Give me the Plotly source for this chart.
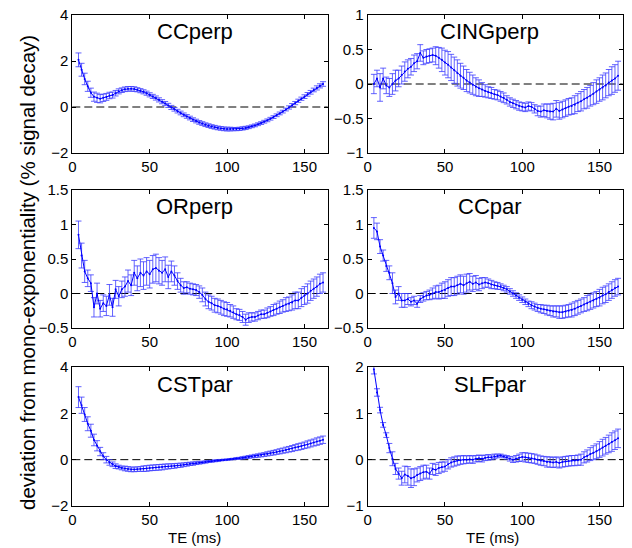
import plotly.graph_objects as go

TE = [4, 6, 8, 10, 12, 14, 16, 18, 20, 22,
      24, 26, 28, 30, 32, 34, 36, 38, 40, 42,
      44, 46, 48, 50, 52, 54, 56, 58, 60, 62,
      64, 66, 68, 70, 72, 74, 76, 78, 80, 82,
      84, 86, 88, 90, 92, 94, 96, 98, 100, 102,
      104, 106, 108, 110, 112, 114, 116, 118, 120, 122,
      124, 126, 128, 130, 132, 134, 136, 138, 140, 142,
      144, 146, 148, 150, 152, 154, 156, 158, 160, 162]

titles = ["CCperp", "CINGperp", "ORperp", "CCpar", "CSTpar", "SLFpar"]

ccperp = [2.05, 1.62, 1.22, 0.9, 0.62, 0.45, 0.4, 0.36, 0.4, 0.44,
          0.5, 0.52, 0.6, 0.68, 0.73, 0.77, 0.79, 0.79, 0.78, 0.75,
          0.71, 0.66, 0.6, 0.53, 0.46, 0.39, 0.31, 0.23, 0.15, 0.07,
          -0.02, -0.1, -0.18, -0.26, -0.34, -0.41, -0.48, -0.55, -0.61, -0.67,
          -0.72, -0.77, -0.81, -0.85, -0.88, -0.91, -0.93, -0.95, -0.96, -0.96,
          -0.96, -0.96, -0.95, -0.93, -0.91, -0.88, -0.84, -0.8, -0.75, -0.7,
          -0.64, -0.58, -0.51, -0.44, -0.36, -0.28, -0.2, -0.11, -0.02, 0.08,
          0.17, 0.27, 0.36, 0.45, 0.55, 0.64, 0.74, 0.83, 0.92, 1.0]
ccperp_err = [0.3, 0.28, 0.25, 0.22, 0.2, 0.2, 0.2, 0.18, 0.16, 0.15,
              0.14, 0.13, 0.12, 0.11, 0.1, 0.1, 0.1, 0.1, 0.1, 0.09,
              0.09, 0.09, 0.09, 0.09, 0.09, 0.09, 0.09, 0.09, 0.09, 0.09,
              0.09, 0.08, 0.08, 0.08, 0.08, 0.08, 0.08, 0.08, 0.08, 0.08,
              0.08, 0.08, 0.08, 0.08, 0.08, 0.08, 0.08, 0.08, 0.08, 0.08,
              0.07, 0.07, 0.07, 0.07, 0.07, 0.06, 0.06, 0.06, 0.06, 0.06,
              0.06, 0.06, 0.06, 0.06, 0.06, 0.06, 0.06, 0.06, 0.07, 0.07,
              0.07, 0.07, 0.07, 0.08, 0.08, 0.08, 0.08, 0.09, 0.09, 0.1]

cingperp = [0.0, 0.08, -0.05, 0.08, -0.02, -0.05, 0.0, 0.05, 0.08, 0.13,
            0.18, 0.22, 0.25, 0.3, 0.33, 0.45, 0.38, 0.4, 0.41, 0.42,
            0.41, 0.38, 0.35, 0.31, 0.28, 0.24, 0.2, 0.16, 0.12, 0.09,
            0.05, 0.02, -0.01, -0.04, -0.06, -0.08, -0.1, -0.12, -0.13, -0.15,
            -0.16, -0.18, -0.2, -0.23, -0.26, -0.28, -0.3, -0.32, -0.33, -0.34,
            -0.32, -0.33, -0.36, -0.39, -0.4, -0.38, -0.39, -0.4, -0.4, -0.36,
            -0.39, -0.37, -0.35, -0.33, -0.32, -0.3, -0.27, -0.25, -0.22, -0.2,
            -0.17, -0.14, -0.11, -0.08, -0.05, -0.02, 0.02, 0.05, 0.08, 0.12]
cingperp_err = [0.14, 0.12, 0.2, 0.15, 0.12, 0.13, 0.15, 0.15, 0.12, 0.13,
                0.14, 0.13, 0.12, 0.12, 0.11, 0.12, 0.1, 0.1, 0.1, 0.1,
                0.13, 0.15, 0.17, 0.18, 0.19, 0.19, 0.19, 0.19, 0.18, 0.17,
                0.16, 0.15, 0.14, 0.13, 0.12, 0.1, 0.09, 0.08, 0.08, 0.07,
                0.07, 0.07, 0.07, 0.06, 0.06, 0.06, 0.06, 0.06, 0.06, 0.06,
                0.06, 0.06, 0.06, 0.07, 0.08, 0.09, 0.1, 0.11, 0.12, 0.12,
                0.12, 0.12, 0.12, 0.12, 0.12, 0.13, 0.13, 0.14, 0.14, 0.15,
                0.15, 0.16, 0.17, 0.17, 0.18, 0.18, 0.19, 0.2, 0.2, 0.21]

orperp = [0.85, 0.55, 0.32, 0.22, 0.15, -0.2, 0.0, -0.22, -0.14, -0.18,
          -0.02, -0.2, 0.06, -0.04, 0.06, 0.1, 0.18, 0.12, 0.3, 0.22,
          0.3, 0.26, 0.32, 0.28, 0.35, 0.37, 0.33, 0.3, 0.35, 0.24,
          0.32, 0.26, 0.18, 0.12, 0.08, 0.09, 0.07, 0.06, 0.05, 0.02,
          -0.02, -0.08, -0.12, -0.14, -0.17, -0.18, -0.2, -0.22, -0.23, -0.25,
          -0.27, -0.3, -0.31, -0.34, -0.38, -0.35, -0.34, -0.34, -0.32, -0.3,
          -0.3, -0.28, -0.26, -0.24, -0.22, -0.2, -0.18, -0.16, -0.15, -0.13,
          -0.1, -0.1, -0.06, -0.03, 0.0, 0.04, 0.07, 0.1, 0.14, 0.16]
orperp_err = [0.2, 0.18, 0.16, 0.12, 0.12, 0.14, 0.15, 0.12, 0.12, 0.14,
              0.15, 0.13, 0.13, 0.14, 0.12, 0.14, 0.16, 0.15, 0.18, 0.18,
              0.2, 0.2, 0.2, 0.2, 0.2, 0.2, 0.19, 0.18, 0.18, 0.17,
              0.15, 0.14, 0.12, 0.1, 0.09, 0.08, 0.08, 0.08, 0.08, 0.09,
              0.1, 0.1, 0.1, 0.1, 0.1, 0.1, 0.1, 0.1, 0.1, 0.09,
              0.09, 0.08, 0.08, 0.08, 0.08, 0.07, 0.06, 0.06, 0.06, 0.06,
              0.06, 0.07, 0.07, 0.08, 0.08, 0.09, 0.09, 0.1, 0.1, 0.11,
              0.12, 0.12, 0.13, 0.13, 0.14, 0.14, 0.14, 0.14, 0.14, 0.14]

ccpar = [0.95, 0.9, 0.68, 0.55, 0.4, 0.3, 0.15, -0.05, 0.0, -0.1,
         -0.1, -0.08, -0.12, -0.1, -0.15, -0.08, -0.05, -0.03, -0.02, 0.0,
         0.02, 0.02, 0.04, 0.05, 0.08, 0.1, 0.1, 0.12, 0.14, 0.12,
         0.15, 0.17, 0.14, 0.16, 0.13, 0.15, 0.16, 0.15, 0.13, 0.12,
         0.11, 0.1, 0.08, 0.06, 0.03, 0.0, -0.03, -0.06, -0.09, -0.12,
         -0.15, -0.17, -0.19, -0.21, -0.22, -0.23, -0.24, -0.25, -0.26, -0.26,
         -0.27, -0.27, -0.26, -0.25, -0.24, -0.22, -0.2, -0.18, -0.16, -0.14,
         -0.12, -0.1, -0.08, -0.06, -0.03, -0.01, 0.02, 0.05, 0.08, 0.1]
ccpar_err = [0.15, 0.12, 0.1, 0.08, 0.08, 0.1, 0.15, 0.1, 0.1, 0.1,
             0.1, 0.08, 0.06, 0.06, 0.05, 0.05, 0.06, 0.06, 0.07, 0.08,
             0.09, 0.1, 0.11, 0.12, 0.12, 0.13, 0.13, 0.13, 0.13, 0.13,
             0.13, 0.12, 0.11, 0.1, 0.09, 0.08, 0.07, 0.06, 0.06, 0.05,
             0.05, 0.04, 0.04, 0.04, 0.04, 0.04, 0.04, 0.04, 0.04, 0.04,
             0.04, 0.05, 0.05, 0.05, 0.06, 0.06, 0.07, 0.07, 0.08, 0.08,
             0.09, 0.09, 0.09, 0.09, 0.1, 0.1, 0.1, 0.1, 0.1, 0.11,
             0.11, 0.11, 0.11, 0.12, 0.12, 0.12, 0.12, 0.12, 0.12, 0.12]

cstpar = [2.7, 2.35, 1.95, 1.55, 1.25, 0.85, 0.6, 0.35, 0.15, 0.0,
          -0.12, -0.2, -0.28, -0.32, -0.36, -0.38, -0.4, -0.42, -0.42, -0.41,
          -0.4, -0.39, -0.38, -0.36, -0.35, -0.34, -0.33, -0.32, -0.3, -0.29,
          -0.28, -0.27, -0.25, -0.24, -0.22, -0.2, -0.18, -0.17, -0.15, -0.13,
          -0.12, -0.1, -0.08, -0.07, -0.05, -0.04, -0.02, -0.01, 0.0, 0.02,
          0.03, 0.05, 0.06, 0.08, 0.1, 0.12, 0.14, 0.16, 0.18, 0.2,
          0.22, 0.25, 0.28, 0.3, 0.33, 0.36, 0.39, 0.42, 0.45, 0.48,
          0.52, 0.55, 0.58, 0.62, 0.66, 0.7, 0.74, 0.78, 0.82, 0.86]
cstpar_err = [0.45, 0.35, 0.3, 0.3, 0.28, 0.25, 0.22, 0.18, 0.15, 0.14,
              0.12, 0.1, 0.1, 0.08, 0.08, 0.1, 0.1, 0.1, 0.1, 0.1,
              0.1, 0.12, 0.12, 0.12, 0.12, 0.12, 0.12, 0.12, 0.11, 0.11,
              0.1, 0.1, 0.09, 0.09, 0.08, 0.08, 0.07, 0.07, 0.06, 0.06,
              0.05, 0.05, 0.04, 0.04, 0.04, 0.04, 0.03, 0.03, 0.03, 0.03,
              0.03, 0.04, 0.04, 0.05, 0.05, 0.06, 0.06, 0.07, 0.07, 0.08,
              0.08, 0.09, 0.09, 0.1, 0.1, 0.11, 0.11, 0.12, 0.12, 0.13,
              0.13, 0.14, 0.14, 0.14, 0.15, 0.15, 0.15, 0.16, 0.16, 0.16]

slfpar = [1.95, 1.45, 1.07, 0.75, 0.53, 0.25, 0.02, -0.2, -0.3, -0.4,
          -0.32, -0.35, -0.4, -0.38, -0.33, -0.3, -0.27, -0.26, -0.3, -0.2,
          -0.22, -0.18, -0.16, -0.15, -0.1, -0.06, -0.04, -0.02, -0.01, 0.0,
          0.0, 0.01, 0.0, 0.02, 0.03, 0.02, 0.04, 0.05, 0.05, 0.07,
          0.08, 0.09, 0.07, 0.05, 0.02, 0.0, 0.02, 0.04, 0.06, 0.05,
          0.04, 0.03, 0.02, 0.0, -0.02, -0.03, -0.05, -0.05, -0.06, -0.05,
          -0.07, -0.05, -0.04, -0.03, -0.02, -0.02, -0.01, 0.0, 0.05, 0.08,
          0.12, 0.15, 0.18, 0.22, 0.26, 0.3, 0.34, 0.38, 0.42, 0.46]
slfpar_err = [0.1, 0.08, 0.06, 0.05, 0.05, 0.1, 0.15, 0.12, 0.12, 0.15,
              0.18, 0.2, 0.2, 0.18, 0.15, 0.15, 0.15, 0.14, 0.12, 0.12,
              0.12, 0.12, 0.11, 0.1, 0.1, 0.1, 0.1, 0.1, 0.09, 0.09,
              0.08, 0.08, 0.08, 0.07, 0.07, 0.07, 0.06, 0.06, 0.05, 0.05,
              0.04, 0.03, 0.03, 0.04, 0.05, 0.06, 0.07, 0.08, 0.09, 0.1,
              0.1, 0.1, 0.1, 0.1, 0.1, 0.1, 0.11, 0.11, 0.11, 0.11,
              0.11, 0.11, 0.11, 0.11, 0.11, 0.11, 0.11, 0.12, 0.12, 0.13,
              0.14, 0.15, 0.16, 0.17, 0.18, 0.18, 0.19, 0.2, 0.2, 0.2]

x_ticks = [0, 50, 100, 150]
y_ranges = [[-2, 4], [-1, 1], [-0.5, 1.5], [-0.5, 1.5], [-2, 4], [-1, 2]]
y_dticks = [2, 0.5, 0.5, 0.5, 2, 1]
x_label = "TE (ms)"
y_label = "deviation from mono-exponentiality (% signal decay)"

series = [(ccperp, ccperp_err), (cingperp, cingperp_err), (orperp, orperp_err),
          (ccpar, ccpar_err), (cstpar, cstpar_err), (slfpar, slfpar_err)]

W, H = 632, 548
col_px = [(72.3, 327.7), (367.7, 622.7)]
row_px = [(15, 153), (190, 328), (367, 506)]

FONT = "Liberation Sans, Arial, Helvetica, sans-serif"
fig = go.Figure()
layout = dict(template="none", width=W, height=H,
              margin=dict(l=0, r=0, t=0, b=0, pad=0, autoexpand=False),
              paper_bgcolor="white", plot_bgcolor="white", showlegend=False,
              font=dict(family=FONT, color="black"))
annotations = []
shapes = []

for i, (vals, errs) in enumerate(series):
    r, c = divmod(i, 2)
    n = "" if i == 0 else str(i + 1)
    xa, ya = "x" + n, "y" + n
    fig.add_trace(go.Scatter(
        x=TE, y=vals, xaxis=xa, yaxis=ya, mode="lines+markers",
        line=dict(color="#0000ff", width=1),
        marker=dict(color="#0000ff", size=2),
        error_y=dict(type="data", array=errs, visible=True,
                     color="rgba(60,60,255,0.8)", thickness=1, width=3),
    ))
    x0, x1 = col_px[c]
    t, b = row_px[r]
    axstyle = dict(showline=True, linecolor="black", linewidth=1, mirror="ticks",
                   ticks="inside", ticklen=4, tickcolor="black", showgrid=False,
                   zeroline=False, automargin=False,
                   tickfont=dict(size=15, family=FONT, color="black"))
    layout["xaxis" + n] = dict(domain=[x0 / W, x1 / W], range=[0, 165],
                               tickvals=x_ticks, anchor=ya, **axstyle)
    layout["yaxis" + n] = dict(domain=[1 - b / H, 1 - t / H], range=y_ranges[i],
                               dtick=y_dticks[i], tick0=0, anchor=xa, **axstyle)
    shapes.append(dict(type="line", xref=xa + " domain", yref=ya, x0=0, x1=1,
                       y0=0, y1=0, line=dict(color="black", width=1, dash="8px,4px"),
                       layer="below"))
    annotations.append(dict(text=titles[i], xref=xa, yref=ya + " domain", x=79, y=0.982,
                            xanchor="center", yanchor="top", showarrow=False,
                            font=dict(size=22, family=FONT, color="black")))

for cx in (194.5, 492.0):
    annotations.append(dict(text=x_label, xref="paper", yref="paper", x=cx / W,
                            y=1 - 537 / H, xanchor="center", yanchor="middle",
                            showarrow=False, font=dict(size=15, family=FONT, color="black")))

annotations.append(dict(text=y_label, xref="paper", yref="paper", x=28 / W, y=1 - 273 / H,
                        xanchor="center", yanchor="middle", textangle=-90, showarrow=False,
                        font=dict(size=20.5, family=FONT, color="black")))

layout["annotations"] = annotations
layout["shapes"] = shapes
fig.update_layout(**layout)
fig.write_html("out.html", config={"displayModeBar": False},
               post_script="document.body.style.margin='0px';document.body.style.overflow='hidden';")
